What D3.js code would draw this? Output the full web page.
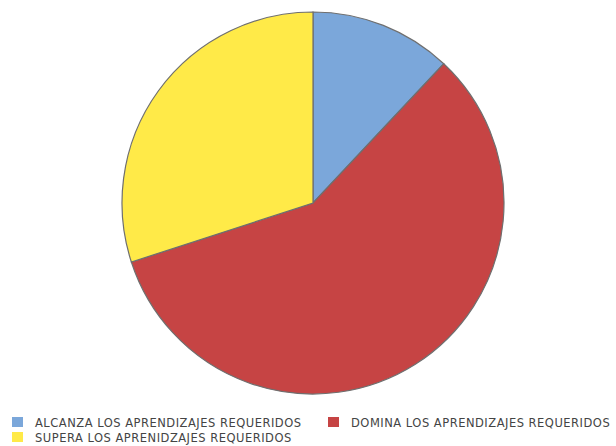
<!DOCTYPE html>
<html>
<head>
<meta charset="utf-8">
<script src="https://cdn.jsdelivr.net/npm/d3@7"></script>
<style>
  body { margin: 0; background: #fff; }
  text { font-family: "DejaVu Sans", sans-serif; }
</style>
</head>
<body>
<script>
// slice data
const categories = ["ALCANZA LOS APRENDIZAJES REQUERIDOS", "DOMINA LOS APRENDIZAJES REQUERIDOS", "SUPERA LOS APRENIDZAJES REQUERIDOS"];
const values = [12, 58, 30];
const colors = ["#7ba7da", "#c64444", "#ffea48"];

const width = 616;
const height = 446;

const svg = d3.select("body")
  .append("svg")
  .attr("width", width)
  .attr("height", height);

const radius = 191;
const pieG = svg.append("g")
  .attr("transform", `translate(313, 203)`);

const pie = d3.pie().sort(null).value(d => d);
const arc = d3.arc().innerRadius(0).outerRadius(radius);

pieG.selectAll("path")
  .data(pie(values))
  .enter()
  .append("path")
  .attr("d", arc)
  .attr("fill", (d, i) => colors[i])
  .attr("stroke", "#6f6f6f")
  .attr("stroke-width", 1.2);

// legend
const legendPos = [[12, 417], [328, 417], [12, 432]];
const legend = svg.append("g");
const items = legend.selectAll("g")
  .data(categories)
  .enter()
  .append("g")
  .attr("transform", (d, i) => `translate(${legendPos[i][0]}, ${legendPos[i][1]})`);

items.append("rect")
  .attr("width", 11)
  .attr("height", 10)
  .attr("fill", (d, i) => colors[i]);

items.append("text")
  .attr("x", 23)
  .attr("y", 9.5)
  .attr("font-size", 11.5)
  .attr("letter-spacing", 0.5)
  .attr("fill", "#444")
  .text(d => d);
</script>
</body>
</html>
